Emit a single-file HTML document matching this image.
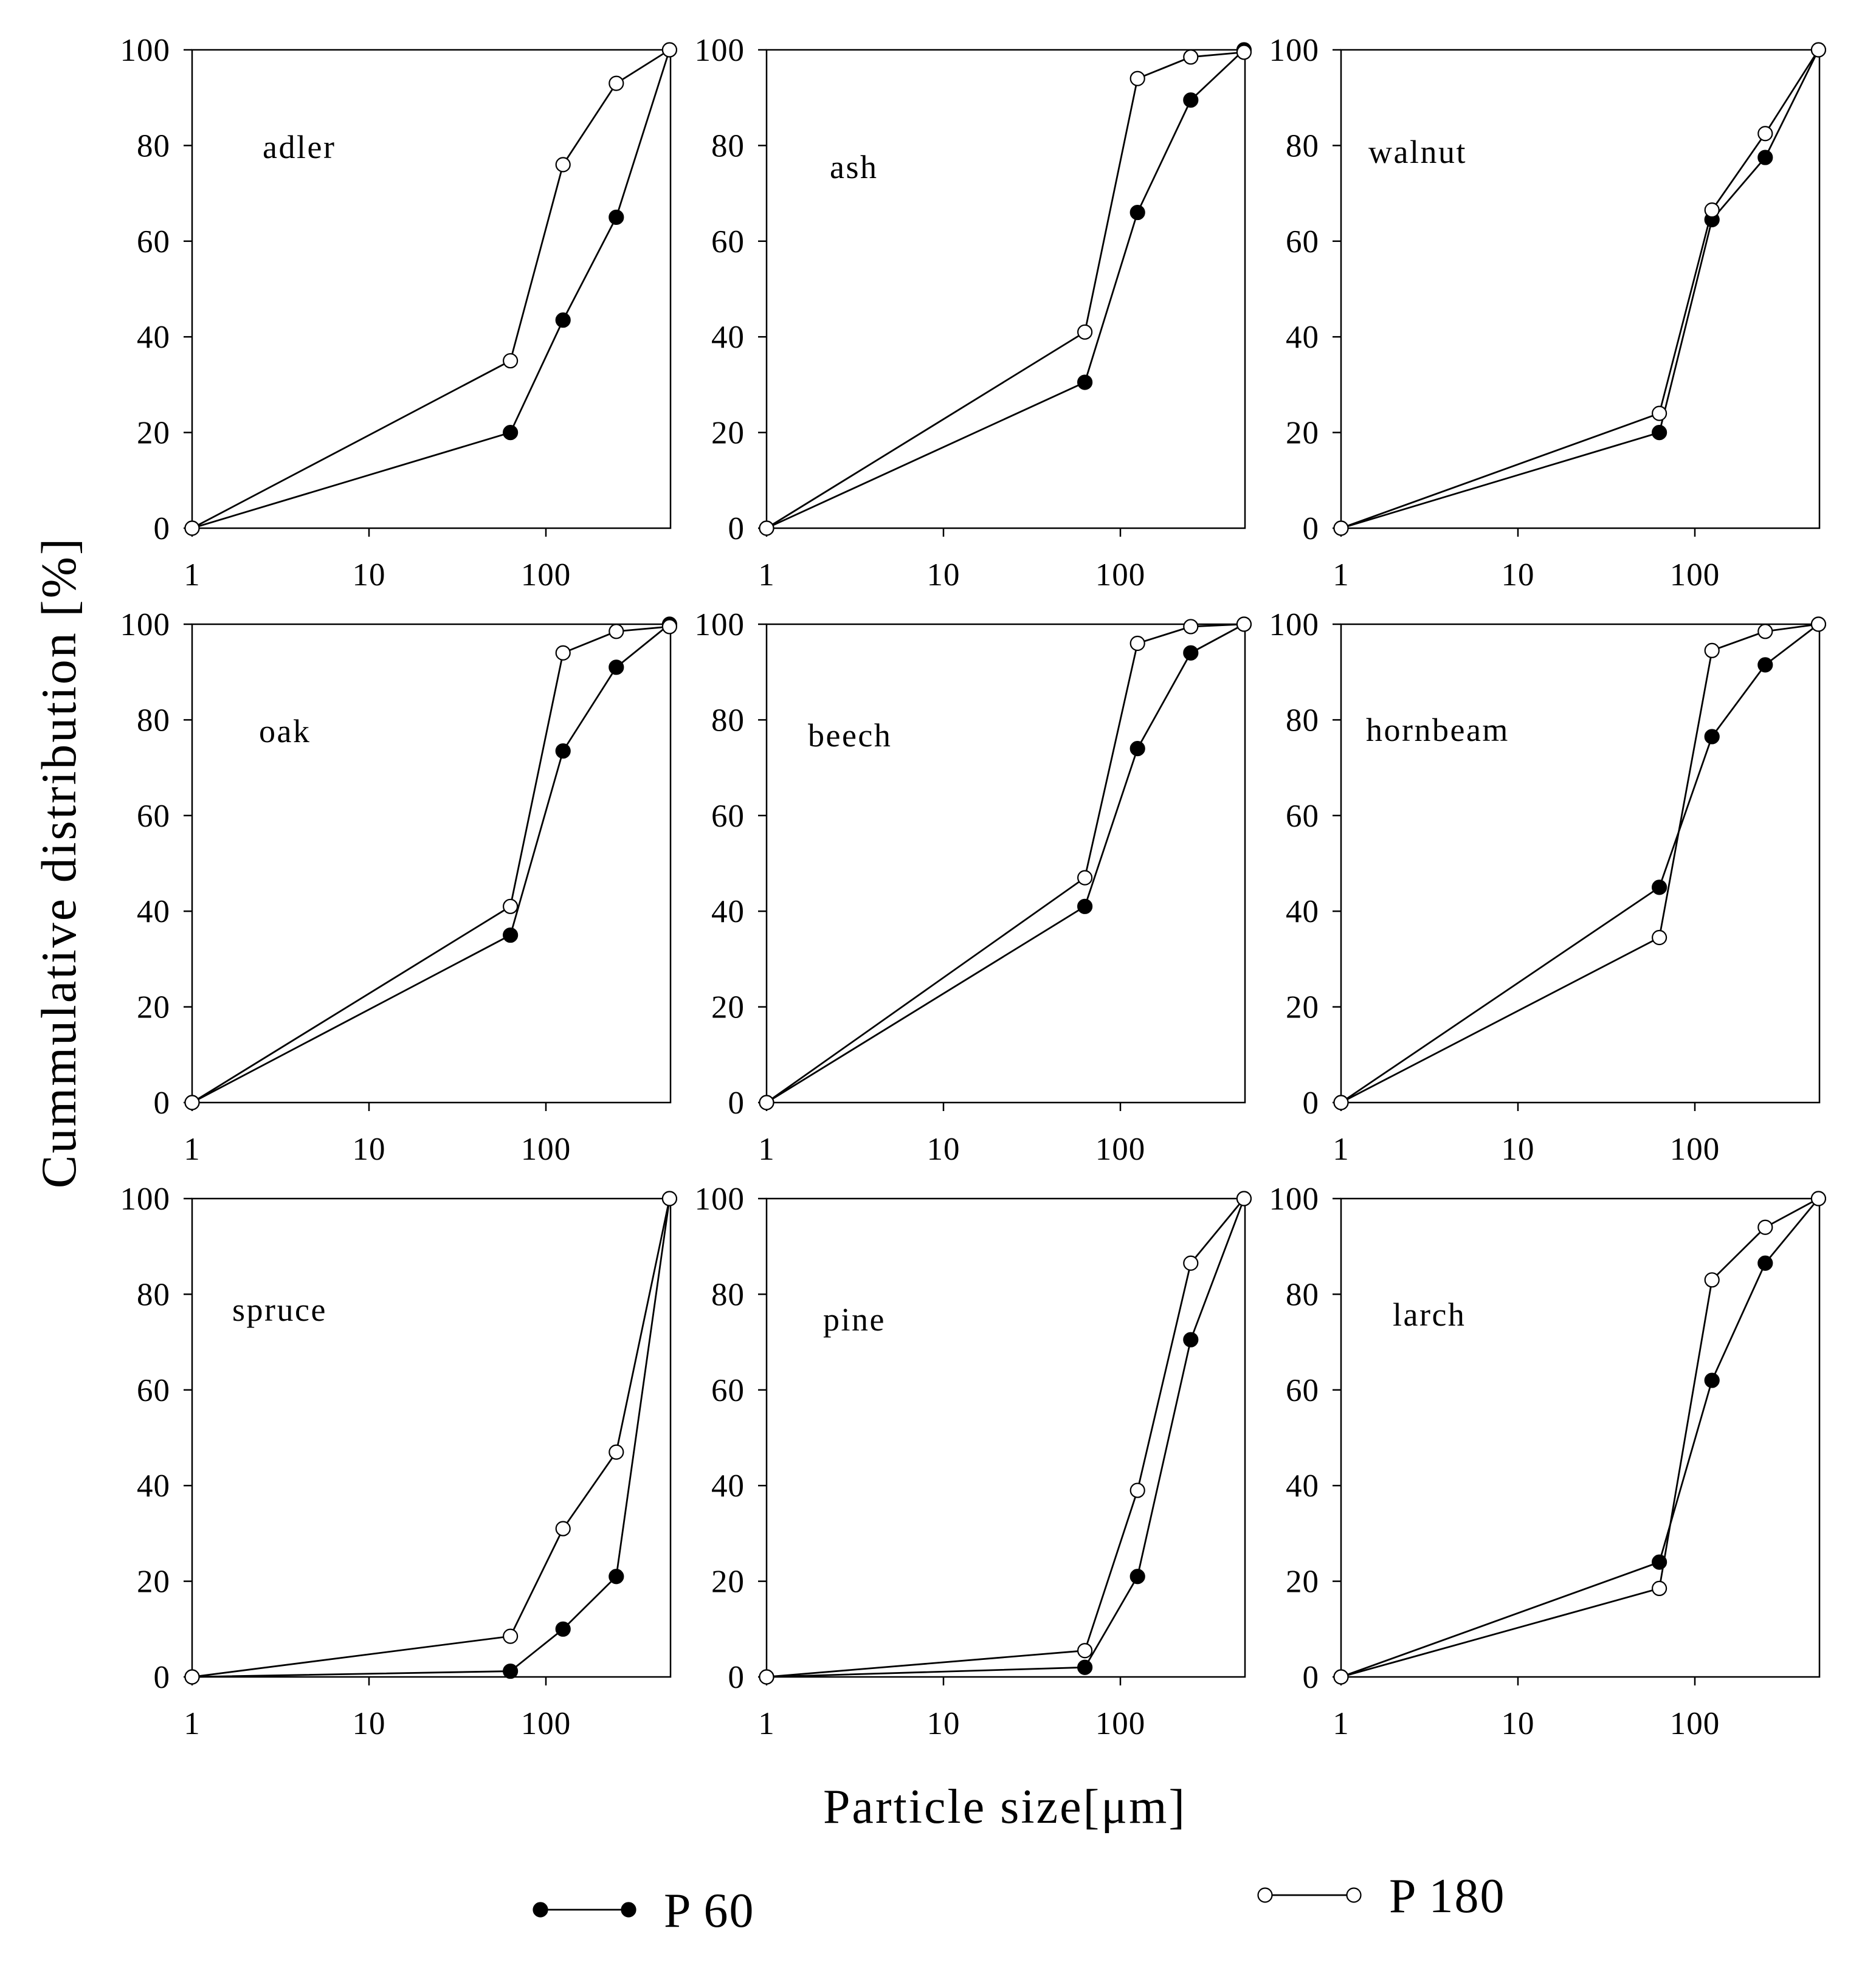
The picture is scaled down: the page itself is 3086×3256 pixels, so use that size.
<!DOCTYPE html>
<html><head><meta charset="utf-8"><style>
html,body{margin:0;padding:0;background:#fff;}
svg{display:block;font-family:"Liberation Serif",serif;}
</style></head><body>
<svg id="chart" width="3086" height="3256" viewBox="0 0 3086 3256"></svg>
<script>
const sizes=[1,63,125,250,500];
const names=["adler","ash","walnut","oak","beech","hornbeam","spruce","pine","larch"];
const p60=[[0,20,43.5,65,100],[0,30.5,66,89.5,100],[0,20,64.5,77.5,100],[0,35,73.5,91,100],[0,41,74,94,100],[0,45,76.5,91.5,100],[0,1.2,10,21,100],[0,2,21,70.5,100],[0,24,62,86.5,100]];
const p180=[[0,35,76,93,100],[0,41,94,98.5,99.5],[0,24,66.5,82.5,100],[0,41,94,98.5,99.5],[0,47,96,99.5,100],[0,34.5,94.5,98.5,100],[0,8.5,31,47,100],[0,5.5,39,86.5,100],[0,18.5,83,94,100]];
const yTicks=[0,20,40,60,80,100];
const xTicks=[1,10,100];
const labelPos=[[116,178],[104,211],[45,186],[110,194],[68,201],[41,192],[66,201],[93,217],[85,209]];
const NS="http://www.w3.org/2000/svg";
const svg=document.getElementById('chart');
function el(t,a,p){const e=document.createElementNS(NS,t);for(const k in a)e.setAttribute(k,a[k]);(p||svg).appendChild(e);return e;}
const W=787,H=787,DEC=291;
for(let i=0;i<9;i++){
  const c=i%3,r=Math.floor(i/3);
  const L=316+c*945,T=82+r*945;
  const xs=v=>L+DEC*Math.log10(v);
  const ys=v=>T+H-v/100*H;
  const g=el('g',{});
  
  
  const box=el('rect',{x:L,y:T,width:W,height:H,fill:'none',stroke:'#000','stroke-width':2.5},g);
  
  
  yTicks.forEach(t=>{
    el('line',{x1:L-14,x2:L,y1:ys(t),y2:ys(t),stroke:'#000','stroke-width':2.5},g);
    const tx=el('text',{x:L-36,y:ys(t)+18,'font-size':53,'letter-spacing':1,'text-anchor':'end'},g);
    tx.textContent=t;
    
    
  });
  xTicks.forEach(t=>{
    el('line',{x1:xs(t),x2:xs(t),y1:T+H,y2:T+H+14,stroke:'#000','stroke-width':2.5},g);
    const tx=el('text',{x:xs(t),y:T+H+94,'font-size':53,'letter-spacing':1,'text-anchor':'middle'},g);
    tx.textContent=t;
    
    
  });
  const lb=el('text',{x:L+labelPos[i][0],y:T+labelPos[i][1],'font-size':54,'letter-spacing':2.5},g);
  lb.textContent=names[i];
  
  
  [[p60[i],'#000','p60'],[p180[i],'#fff','p180']].forEach(([vals,fill,nm])=>{
    const pts=sizes.map((s,j)=>xs(s)+','+ys(vals[j])).join(' ');
    const pl=el('polyline',{points:pts,fill:'none',stroke:'#000','stroke-width':2.8},g);
    
    
    sizes.forEach((s,j)=>{
      const m=el('circle',{cx:xs(s),cy:ys(vals[j]),r:11.5,fill:fill,stroke:'#000','stroke-width':2.2},g);
      
      
    });
  });
}
const yt=el('text',{x:0,y:0,'font-size':82,'letter-spacing':3,'text-anchor':'middle',transform:'translate(124,1419) rotate(-90)'});
yt.textContent='Cummulative distribution [%]';


const xt=el('text',{x:1653,y:2999,'font-size':80,'letter-spacing':3,'text-anchor':'middle'});
xt.textContent='Particle size[μm]';


const lg1=el('g',{});


el('line',{x1:889,x2:1034,y1:3142,y2:3142,stroke:'#000','stroke-width':2.8},lg1);
el('circle',{cx:889,cy:3142,r:11.5,fill:'#000',stroke:'#000','stroke-width':2.2},lg1);
el('circle',{cx:1034,cy:3142,r:11.5,fill:'#000',stroke:'#000','stroke-width':2.2},lg1);
const t1=el('text',{x:1092,y:3170,'font-size':80,'letter-spacing':2},lg1);t1.textContent='P 60';
const lg2=el('g',{});


el('line',{x1:2081,x2:2227,y1:3118,y2:3118,stroke:'#000','stroke-width':2.8},lg2);
el('circle',{cx:2081,cy:3118,r:11.5,fill:'#fff',stroke:'#000','stroke-width':2.2},lg2);
el('circle',{cx:2227,cy:3118,r:11.5,fill:'#fff',stroke:'#000','stroke-width':2.2},lg2);
const t2=el('text',{x:2285,y:3146,'font-size':80,'letter-spacing':2},lg2);t2.textContent='P 180';
</script>
</body></html>
